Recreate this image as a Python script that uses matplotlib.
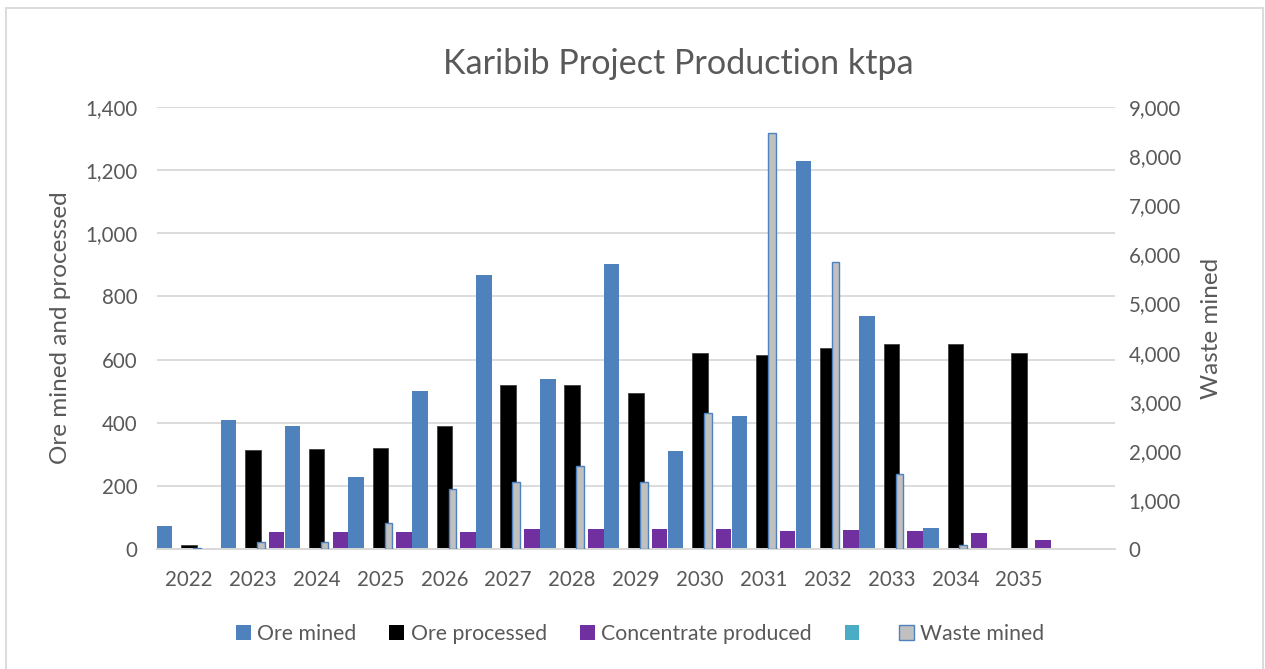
import numpy as np
import matplotlib
matplotlib.use("Agg")
import matplotlib.pyplot as plt
from matplotlib.patches import Patch, Rectangle
from matplotlib.ticker import FuncFormatter

# ---------------- DATA ----------------
years = ["2022", "2023", "2024", "2025", "2026", "2027", "2028", "2029",
         "2030", "2031", "2032", "2033", "2034", "2035", ""]
ore_mined = [75, 408, 390, 228, 502, 869, 540, 902, 310, 423, 1229, 737, 67, 0, 0]
ore_processed = [13, 315, 316, 321, 391, 521, 521, 494, 621, 616, 636, 649, 649, 621, 0]
concentrate = [1, 54, 55, 55, 56, 63, 63, 63, 63, 57, 61, 58, 52, 30, 0]
waste_mined = [20, 155, 142, 528, 1232, 1362, 1694, 1362, 2778, 8471, 5836, 1525, 87, 0, 0]

# ---------------- STYLE ----------------
BLUE = "#4F81BD"
BLACK = "#000000"
PURPLE = "#7030A0"
CYAN = "#4BACC6"
GREY = "#C0C0C0"
TEXT = "#595959"
GRID = "#D9D9D9"

plt.rcParams["font.family"] = ["Lato", "DejaVu Sans"]

fig = plt.figure(figsize=(12.65, 6.69), dpi=100)
ax = fig.add_axes([0.1241, 0.1789, 0.7573, 0.6616])
ax2 = ax.twinx()

x = np.arange(len(years))
w = 0.243

ax.bar(x - 0.38, ore_mined, w, color=BLUE, zorder=2)
ax.bar(x, ore_processed, w, color=BLACK, edgecolor="#404040", linewidth=0.6, zorder=2)
ax.bar(x + 0.37, concentrate, w, color=PURPLE, zorder=2)

# zero-height waste bars are left out, otherwise their outline shows on the axis
waste = np.array(waste_mined, dtype=float)
has_waste = waste > 0
ax2.bar(x[has_waste] + 0.125, waste[has_waste], 0.12, color=GREY, edgecolor=BLUE,
        linewidth=1.0, zorder=3)

ax.set_xlim(-0.5, len(years) - 0.5)
ax.set_ylim(0, 1400)
ax2.set_ylim(0, 9000)
ax.set_yticks(np.arange(0, 1401, 200))
ax2.set_yticks(np.arange(0, 9001, 1000))

fmt = FuncFormatter(lambda v, p: f"{int(v):,}")
ax.yaxis.set_major_formatter(fmt)
ax2.yaxis.set_major_formatter(fmt)

ax.set_xticks(x)
ax.set_xticklabels(years)

ax.grid(axis="y", color=GRID, linewidth=1.3, zorder=0)
ax.set_axisbelow(True)

for a in (ax, ax2):
    for s in ("top", "left", "right"):
        a.spines[s].set_visible(False)
    a.spines["bottom"].set_color(GRID)
    a.spines["bottom"].set_linewidth(1.3)
    a.tick_params(length=0, colors=TEXT, labelsize=14.8)

ax.tick_params(axis="x", pad=15)
ax.tick_params(axis="y", pad=14)
ax2.tick_params(axis="y", pad=10)

ax.set_ylabel("Ore mined and processed", fontsize=17.5, color=TEXT, labelpad=10)
ax2.set_ylabel("Waste mined", fontsize=17.5, color=TEXT, labelpad=14)

fig.text(0.536, 0.905, "Karibib Project Production ktpa", ha="center", va="center",
         fontsize=24.6, color=TEXT)

handles = [Patch(facecolor=BLUE), Patch(facecolor=BLACK), Patch(facecolor=PURPLE),
           Patch(facecolor=CYAN), Patch(facecolor=GREY, edgecolor=BLUE, linewidth=1.0)]
labels = ["Ore mined", "Ore processed", "Concentrate produced", "", "Waste mined"]
fig.legend(handles, labels, loc="center", bbox_to_anchor=(0.506, 0.053), ncol=5,
           frameon=False, fontsize=15.3, labelcolor=TEXT, handlelength=0.7,
           handleheight=0.7, handletextpad=0.3, columnspacing=1.55)

# chart border
fig.patches.append(Rectangle((6 / 1265, -0.01), 1257 / 1265, 1 - 8 / 669 + 0.01,
                             transform=fig.transFigure, fill=False,
                             edgecolor=GRID, linewidth=1.3))

plt.savefig("out.png", dpi=100)
plt.close()
